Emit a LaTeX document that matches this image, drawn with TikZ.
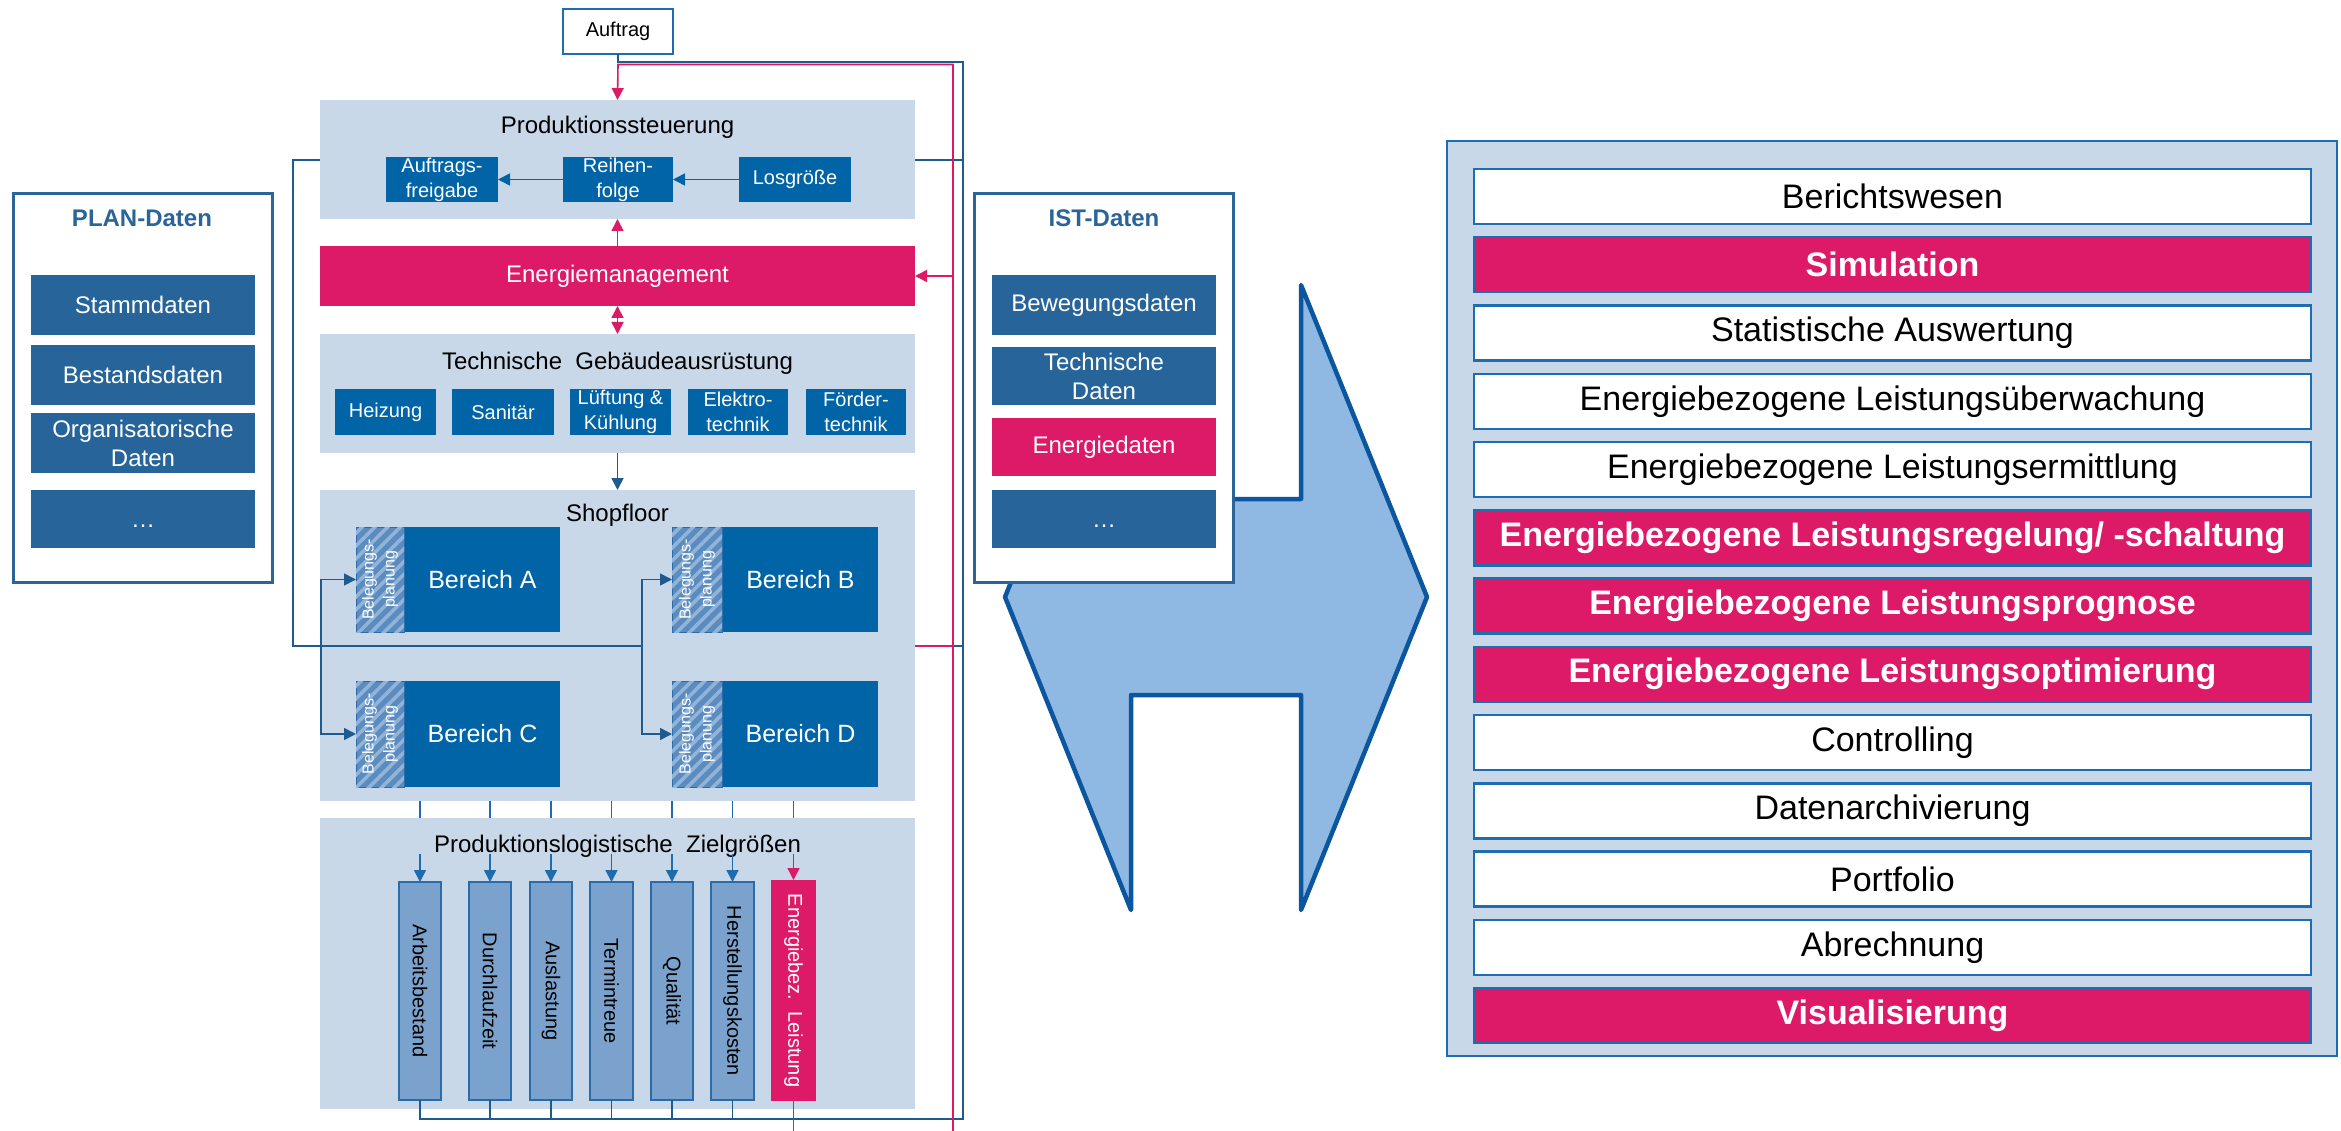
\documentclass[tikz,border=0pt]{standalone}
\usepackage{fontspec}
\setmainfont{Liberation Sans}
\usetikzlibrary{arrows.meta,patterns.meta}
\definecolor{panelc}{HTML}{C8D8E9}
\definecolor{dblue}{HTML}{0064A7}
\definecolor{pbox}{HTML}{266499}
\definecolor{pinkc}{HTML}{DC1A67}
\definecolor{lineblue}{HTML}{1F5B8F}
\definecolor{zarrow}{HTML}{1E6BAD}
\definecolor{zfill}{HTML}{7AA2CC}
\definecolor{zborder}{HTML}{2A6BAA}
\definecolor{arrfill}{HTML}{8FB9E3}
\definecolor{arrline}{HTML}{0B569E}
\definecolor{titleblue}{HTML}{2A6499}
\definecolor{rborder}{HTML}{1E6DB0}
\definecolor{belbase}{HTML}{5B8CC0}
\definecolor{belstripe}{HTML}{93B4D8}
\newcommand\fsz[2]{\fontsize{#1}{#2}\selectfont}
\newcommand\bx[7]{\node[#2, minimum width=#5pt, minimum height=#6pt] (#1) at (#3,#4) {#7};}
\tikzset{
  base/.style={inner sep=0pt, outer sep=0pt, anchor=north west, align=center},
  panel/.style={base, fill=panelc},
  dbox/.style={base, fill=dblue, text=white, font=\fsz{20}{25}},
  pbx/.style={base, fill=pbox, text=white, font=\fsz{24}{29}},
  pkbx/.style={base, fill=pinkc, text=white, font=\fsz{24}{29}},
  datpanel/.style={base, fill=white, draw=titleblue, line width=3pt},
  bel/.style={base, fill=belbase, draw=zborder, line width=1pt,
    postaction={pattern={Lines[angle=45,distance=9pt,line width=3.5pt]}, pattern color=belstripe}},
  zbx/.style={base, fill=zfill, draw=zborder, line width=1.5pt},
  rwhite/.style={base, fill=white, draw=rborder, line width=2.5pt, font=\fsz{34}{40}},
  rpink/.style={base, fill=pinkc, draw=rborder, line width=2.5pt, text=white, font=\bfseries\fsz{34}{40}},
  ttl/.style={anchor=base, font=\fsz{24}{29}},
  conn/.style={draw=lineblue, line width=1.6pt},
  zconn/.style={draw=zarrow, line width=1.6pt},
  pconn/.style={draw=pinkc, line width=1.6pt},
  >={Triangle[length=12pt,width=12pt]}
}
\begin{document}
\begin{tikzpicture}[x=1pt,y=-1pt]
\useasboundingbox (0,0) rectangle (2341,1131);
\fill[white] (0,0) rectangle (2341,1131);

% ---------- PLAN-Daten ----------
\bx{plan}{datpanel}{13}{194}{259}{388}{}
\node[anchor=base, font=\bfseries\fsz{24}{29}, text=titleblue] (plant) at (142,227) {PLAN-Daten};
\bx{stamm}{pbx}{31}{275}{224}{60}{Stammdaten}
\bx{bestand}{pbx}{31}{345}{224}{60}{Bestandsdaten}
\bx{orga}{pbx}{31}{413}{224}{60}{Organisatorische\\Daten}
\bx{pdots}{pbx}{31}{490}{224}{58}{}
\node[text=white, font=\fsz{24}{29}] at ([yshift=-7pt]pdots.center) {…};

% ---------- big arrow ----------
\draw[fill=arrfill, draw=arrline, line width=4.5pt, line join=round]
  (1005,597) -- (1131,285) -- (1131,499) -- (1301,499) -- (1301,285) -- (1427,597)
  -- (1301,910) -- (1301,695) -- (1131,695) -- (1131,910) -- cycle;

% ---------- IST-Daten ----------
\bx{ist}{datpanel}{974}{194}{259}{388}{}
\node[anchor=base, font=\bfseries\fsz{24}{29}, text=titleblue] (istt) at (1104,227) {IST-Daten};
\bx{beweg}{pbx}{992}{275}{224}{60}{Bewegungsdaten}
\bx{techd}{pbx}{992}{347}{224}{58}{Technische\\Daten}
\bx{energd}{pkbx}{992}{418}{224}{58}{Energiedaten}
\bx{idots}{pbx}{992}{490}{224}{58}{}
\node[text=white, font=\fsz{24}{29}] at ([yshift=-7pt]idots.center) {…};

% ---------- Auftrag ----------
\bx{auftrag}{base, fill=white, draw=rborder, line width=2pt, font=\fsz{20}{24}}{563}{9}{110}{45}{Auftrag}

% ---------- Produktionssteuerung ----------
\bx{ps}{panel}{320}{100}{595}{119}{}
\node[ttl] (pst) at (617.5,134) {Produktionssteuerung};
\bx{af}{dbox}{386}{157}{112}{45}{Auftrags-\\freigabe}
\bx{rf}{dbox}{563}{157}{110}{45}{Reihen-\\folge}
\bx{los}{dbox}{739}{157}{112}{45}{Losgröße}

% ---------- Energiemanagement ----------
\bx{em}{pkbx}{320}{246}{595}{60}{Energiemanagement}

% ---------- TGA ----------
\bx{tga}{panel}{320}{334}{595}{119}{}
\node[ttl] (tgat) at (617.5,369) {Technische\ \ Gebäudeausrüstung};
\bx{hz}{dbox}{335}{389}{101}{46}{Heizung}
\bx{san}{dbox}{452}{389}{102}{46}{Sanitär}
\bx{lue}{dbox}{570}{389}{101}{46}{Lüftung \&\\Kühlung}
\bx{ele}{dbox}{688}{389}{100}{46}{Elektro-\\technik}
\bx{foe}{dbox}{806}{389}{100}{46}{Förder-\\technik}

% ---------- Shopfloor ----------
\bx{sf}{panel}{320}{490}{595}{311}{}
\node[ttl] (sft) at (617.5,521) {Shopfloor};
\bx{belA}{bel}{356}{527}{48}{105}{}
\bx{berA}{dbox, font=\fsz{25}{30}}{405}{527}{155}{105}{Bereich A}
\bx{belB}{bel}{672}{527}{50}{105}{}
\bx{berB}{dbox, font=\fsz{25}{30}}{723}{527}{155}{105}{Bereich B}
\bx{belC}{bel}{356}{681}{48}{106}{}
\bx{berC}{dbox, font=\fsz{25}{30}}{405}{681}{155}{106}{Bereich C}
\bx{belD}{bel}{672}{681}{50}{106}{}
\bx{berD}{dbox, font=\fsz{25}{30}}{723}{681}{155}{106}{Bereich D}
\foreach \b in {belA,belB,belC,belD}
  \node[rotate=90, text=white, align=center, font=\fsz{16}{21}] at (\b.center) {Belegungs-\\planung};

% ---------- Zielgroessen ----------
\bx{zp}{panel}{320}{818}{595}{291}{}
\node[ttl] (zpt) at (617.5,852) {Produktionslogistische\ \ Zielgrößen};
\bx{z1}{zbx}{399}{882}{42}{218}{}
\bx{z2}{zbx}{469}{882}{42}{218}{}
\bx{z3}{zbx}{530}{882}{42}{218}{}
\bx{z4}{zbx}{590}{882}{43}{218}{}
\bx{z5}{zbx}{651}{882}{42}{218}{}
\bx{z6}{zbx}{711}{882}{43}{218}{}
\bx{z7}{base, fill=pinkc}{771}{880}{45}{221}{}
\node[rotate=-90, font=\fsz{20}{24}] at (z1.center) {Arbeitsbestand};
\node[rotate=-90, font=\fsz{20}{24}] at (z2.center) {Durchlaufzeit};
\node[rotate=-90, font=\fsz{20}{24}] at (z3.center) {Auslastung};
\node[rotate=-90, font=\fsz{20}{24}] at (z4.center) {Termintreue};
\node[rotate=-90, font=\fsz{20}{24}] at (z5.center) {Qualität};
\node[rotate=-90, font=\fsz{20}{24}] at (z6.center) {Herstellungskosten};
\node[rotate=-90, font=\fsz{20}{24}, text=white] at (z7.center) {Energiebez.\ \ Leistung};

% ---------- right panel ----------
\bx{rp}{base, fill=panelc, draw=rborder, line width=2.5pt}{1447}{141}{890}{915}{}
\bx{r1}{rwhite}{1474}{169}{837}{55}{Berichtswesen}
\bx{r2}{rpink}{1474}{237.25}{837}{55}{Simulation}
\bx{r3}{rwhite}{1474}{305.5}{837}{55}{Statistische Auswertung}
\bx{r4}{rwhite}{1474}{373.75}{837}{55}{Energiebezogene Leistungsüberwachung}
\bx{r5}{rwhite}{1474}{442}{837}{55}{Energiebezogene Leistungsermittlung}
\bx{r6}{rpink}{1474}{510.25}{837}{55}{Energiebezogene Leistungsregelung/ -schaltung}
\bx{r7}{rpink}{1474}{578.5}{837}{55}{Energiebezogene Leistungsprognose}
\bx{r8}{rpink}{1474}{646.75}{837}{55}{Energiebezogene Leistungsoptimierung}
\bx{r9}{rwhite}{1474}{715}{837}{55}{Controlling}
\bx{r10}{rwhite}{1474}{783.25}{837}{55}{Datenarchivierung}
\bx{r11}{rwhite}{1474}{851.5}{837}{55}{Portfolio}
\bx{r12}{rwhite}{1474}{919.75}{837}{55}{Abrechnung}
\bx{r13}{rpink}{1474}{988}{837}{55}{Visualisierung}

% ---------- helper coordinates ----------
\coordinate (topB) at (0,62);
\coordinate (topP) at (0,64.5);
\coordinate (botY) at (0,1119);
\coordinate (endY) at (0,1131);
\coordinate (rB) at (963,0);
\coordinate (rP) at (953,0);
\coordinate (lL) at (293,0);
\coordinate (fbY) at (0,646);
\coordinate (lpY) at (0,160);
\coordinate (jA) at (321,646);
\coordinate (jB) at (642,646);
\coordinate (gapT) at (0,801);
\coordinate (gapB) at (0,818);
\coordinate (arT) at (0,854);

% ---------- internal arrows ----------
\draw[conn, draw=dblue, ->] (los.west) -- (rf.east);
\draw[conn, draw=dblue, ->] (rf.west) -- (af.east);
\draw[pconn, ->] (em.north) -- (ps.south);
\draw[pconn, <->] (em.south) -- (tga.north);
\draw[conn, ->] (tga.south) -- (sf.north);

% ---------- left feedback loop ----------
\draw[conn] (ps.west |- lpY) -- (lL |- lpY) -- (lL |- fbY) -- (jB);
\draw[conn, ->] (jA) |- (belA.west);
\draw[conn, ->] (jA) |- (belC.west);
\draw[conn, ->] (jB) |- (belB.west);
\draw[conn, ->] (jB) |- (belD.west);

% ---------- shopfloor -> zielgroessen ----------
\foreach \z in {z1,z2,z3,z4,z5,z6}{
  \draw[zconn] (\z.north |- gapT) -- (\z.north |- gapB);
  \draw[zconn, ->] (\z.north |- arT) -- (\z.north);
}
\draw[pconn] (z7.north |- gapT) -- (z7.north |- gapB);
\draw[pconn, ->] (z7.north |- arT) -- (z7.north);

% ---------- right blue bus ----------
\draw[conn] (auftrag.south) -- (auftrag.south |- topB) -- (rB |- topB) -- (rB |- botY) -- (z1.south |- botY) -- (z1.south);
\foreach \z in {z2,z3,z4,z5,z6}
  \draw[conn] (\z.south) -- (\z.south |- botY);
\draw[conn] (ps.east |- lpY) -- (rB |- lpY);
\draw[conn] (sf.east |- fbY) -- (rB |- fbY);

% ---------- pink bus ----------
\draw[pconn, ->] (rP |- endY) -- (rP |- topP) -- (auftrag.south |- topP) -- (ps.north);
\draw[pconn, ->] (rP |- em.east) -- (em.east);
\draw[pconn] (sf.east |- fbY) -- (rP |- fbY);
\draw[pconn] (z7.south) -- (z7.south |- endY);
\end{tikzpicture}
\end{document}
